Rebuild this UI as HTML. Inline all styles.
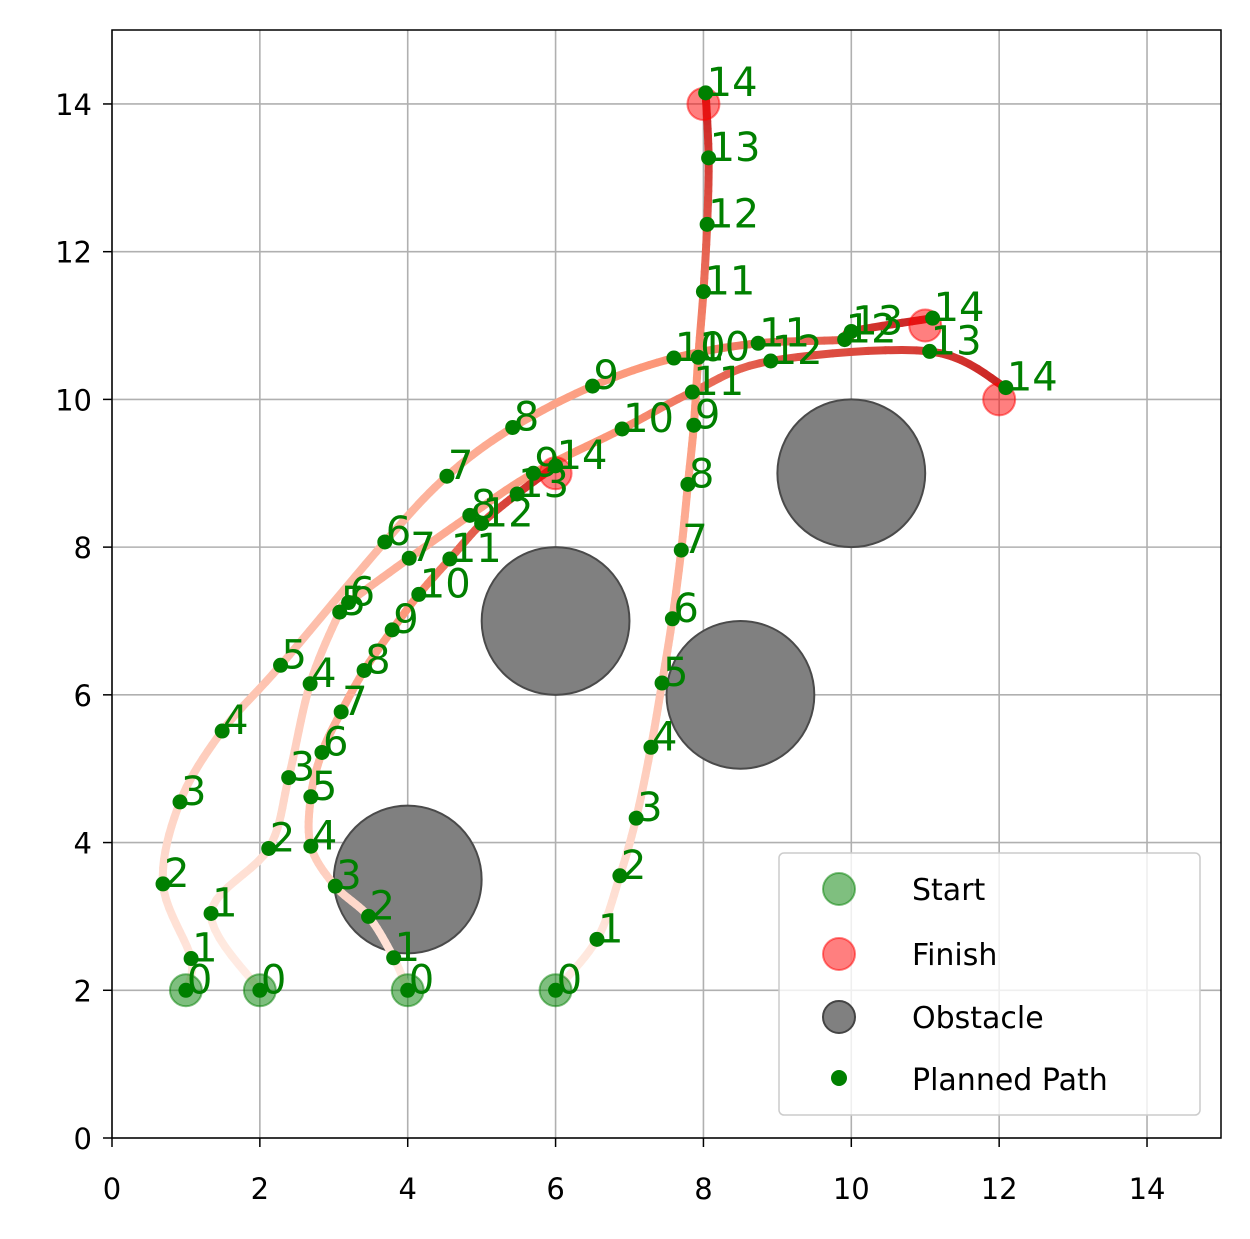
<!DOCTYPE html>
<html><head><meta charset="utf-8"><style>
body{margin:0;background:#fff;}
svg{display:block;font-family:"DejaVu Sans","Liberation Sans",sans-serif;}
</style></head><body>
<svg id="chart" width="1250" height="1239" viewBox="0 0 1250 1239" xmlns="http://www.w3.org/2000/svg">
<rect width="1250" height="1239" fill="#fff"/>
<g id="grid"></g>
<g id="obst"></g>
<g id="paths"></g>
<g id="marks"></g>
<g id="labels"></g>
<rect x="112" y="30" width="1109" height="1108" fill="none" stroke="#000" stroke-width="1.5"/>
<g id="ticks"></g>
<g>
<rect x="779" y="853" width="421" height="262" rx="5" fill="#fff" fill-opacity="0.8" stroke="#ccc" stroke-width="1.5"/>
<circle cx="839" cy="889" r="16" fill="green" fill-opacity="0.5" stroke="green" stroke-opacity="0.5" stroke-width="2"/>
<text x="912" y="900" font-size="30">Start</text>
<circle cx="839" cy="954" r="16" fill="red" fill-opacity="0.5" stroke="red" stroke-opacity="0.5" stroke-width="2"/>
<text x="912" y="965" font-size="30">Finish</text>
<circle cx="839" cy="1017" r="16" fill="#808080" stroke="#444" stroke-width="2"/>
<text x="912" y="1028" font-size="30">Obstacle</text>
<circle cx="839" cy="1078" r="8" fill="green"/>
<text x="912" y="1090" font-size="30">Planned Path</text>
</g>
</svg>
<script>
const ticks=[0,2,4,6,8,10,12,14];
const obstacleX=[4,6,8.5,10];
const obstacleY=[3.5,7,6,9];
const obstacleR=[1,1,1,1];
const startX=[1,2,4,6];
const startY=[2,2,2,2];
const finishX=[11,12,6,8];
const finishY=[11,10,9,14];
const pathAX=[1.0,1.07,0.69,0.92,1.49,2.28,3.69,4.53,5.42,6.5,7.6,8.74,9.91,10.0,11.1];
const pathAY=[2.0,2.43,3.44,4.55,5.51,6.4,8.07,8.96,9.62,10.18,10.56,10.76,10.81,10.92,11.1];
const pathBX=[2.0,1.34,2.12,2.39,2.68,3.08,3.2,4.02,4.84,5.7,6.9,7.85,8.91,11.06,12.09];
const pathBY=[2.0,3.04,3.92,4.88,6.15,7.12,7.25,7.85,8.43,9.0,9.6,10.1,10.52,10.65,10.16];
const pathCX=[4.0,3.81,3.47,3.02,2.69,2.69,2.84,3.1,3.41,3.79,4.15,4.57,5.0,5.48,6.0];
const pathCY=[2.0,2.44,3.0,3.41,3.95,4.62,5.22,5.77,6.33,6.88,7.36,7.84,8.32,8.72,9.1];
const pathDX=[6.0,6.56,6.87,7.09,7.29,7.44,7.58,7.7,7.79,7.87,7.93,8.0,8.05,8.07,8.03];
const pathDY=[2.0,2.69,3.55,4.33,5.29,6.16,7.03,7.96,8.85,9.65,10.57,11.46,12.37,13.27,14.15];
const NS="http://www.w3.org/2000/svg";
const X=v=>112+v*73.93, Y=v=>1138-v*73.86;
function mk(tag,at,parent){const e=document.createElementNS(NS,tag);for(const k in at)e.setAttribute(k,at[k]);document.getElementById(parent).appendChild(e);return e;}
ticks.forEach(t=>{
 let l=mk('line',{x1:X(t),x2:X(t),y1:30,y2:1138,stroke:'#b0b0b0','stroke-width':1.6},'grid');
 
 
 l=mk('line',{x1:112,x2:1221,y1:Y(t),y2:Y(t),stroke:'#b0b0b0','stroke-width':1.6},'grid');
 
 
 mk('line',{x1:X(t),x2:X(t),y1:1138,y2:1147,stroke:'#000','stroke-width':1.5},'ticks');
 mk('line',{x1:103,x2:112,y1:Y(t),y2:Y(t),stroke:'#000','stroke-width':1.5},'ticks');
 let tx=mk('text',{x:X(t),y:1199,'font-size':29,'text-anchor':'middle'},'ticks');tx.textContent=t;
 
 
 tx=mk('text',{x:92,y:Y(t)+11,'font-size':29,'text-anchor':'end'},'ticks');tx.textContent=t;
 
 
});
obstacleX.forEach((o,i)=>{const c=mk('circle',{cx:X(o),cy:Y(obstacleY[i]),r:obstacleR[i]*73.9,fill:'#808080',stroke:'#4a4a4a','stroke-width':2},'obst');
 
 });
startX.forEach((s,i)=>{const c=mk('circle',{cx:X(s),cy:Y(startY[i]),r:16,fill:'green','fill-opacity':0.5,stroke:'green','stroke-opacity':0.5,'stroke-width':2},'marks');
 
 });
finishX.forEach((s,i)=>{const c=mk('circle',{cx:X(s),cy:Y(finishY[i]),r:16,fill:'red','fill-opacity':0.5,stroke:'red','stroke-opacity':0.5,'stroke-width':2},'marks');
 
 });
function col(t){const a=[255,238,230],b=[200,30,30];const m=[252,150,120];let r;
 if(t<0.7){const u=t/0.7;r=a.map((v,i)=>v+(m[i]-v)*u);}else{const u=(t-0.7)/0.3;r=m.map((v,i)=>v+(b[i]-v)*u);}
 return `rgb(${r.map(Math.round).join(',')})`;}
[[pathAX,pathAY],[pathBX,pathBY],[pathCX,pathCY],[pathDX,pathDY]].forEach(([px,py])=>{
 const n=px.length,pts=[];
 for(let i=0;i<n-1;i++){const p0=i?i-1:0,p3=Math.min(i+2,n-1);
  for(let s=0;s<10;s++){const t=s/10,t2=t*t,t3=t2*t;
   const f=(a,b,c,d)=>0.5*(2*b+(-a+c)*t+(2*a-5*b+4*c-d)*t2+(-a+3*b-3*c+d)*t3);
   pts.push([f(px[p0],px[i],px[i+1],px[p3]),f(py[p0],py[i],py[i+1],py[p3])]);}}
 pts.push([px[n-1],py[n-1]]);
 for(let k=0;k<pts.length-1;k++){const l=mk('line',{x1:X(pts[k][0]),y1:Y(pts[k][1]),x2:X(pts[k+1][0]),y2:Y(pts[k+1][1]),stroke:col(k/(pts.length-1)),'stroke-width':8,'stroke-linecap':'round'},'paths');
  
  }
 px.forEach((v,i)=>{const c=mk('circle',{cx:X(v),cy:Y(py[i]),r:7.5,fill:'green'},'marks');
  
  
  const t=mk('text',{x:X(v)+1,y:Y(py[i])+3,'font-size':40,fill:'green'},'labels');t.textContent=i;
  
  });
});
</script>
</body></html>
